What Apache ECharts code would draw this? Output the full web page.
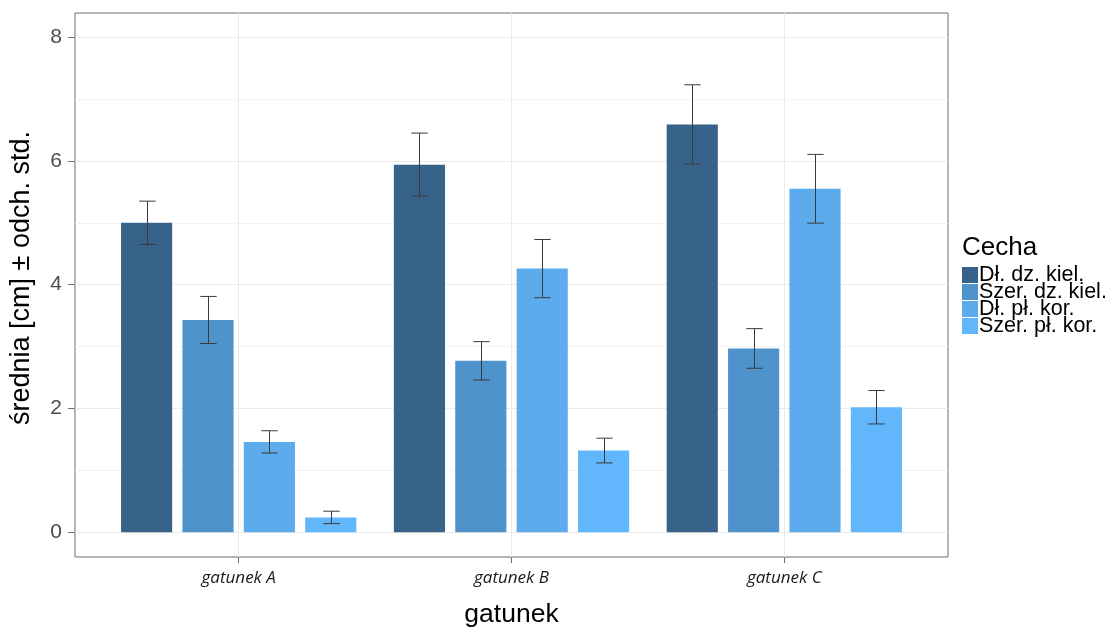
<!DOCTYPE html>
<html>
<head>
<meta charset="utf-8">
<script src="https://cdn.jsdelivr.net/npm/echarts@6/dist/echarts.min.js"></script>
<style>html,body{margin:0;padding:0;background:#fff}#c{width:1115px;height:628px}</style>
</head>
<body>
<div id="c"></div>
<script>
const categories = ['gatunek A', 'gatunek B', 'gatunek C'];
const traits = ['Dł. dz. kiel.', 'Szer. dz. kiel.', 'Dł. pł. kor.', 'Szer. pł. kor.'];
const yTicks = [0, 2, 4, 6, 8];
const meanDlDzKiel = [5.00, 5.94, 6.59];
const meanSzerDzKiel = [3.43, 2.77, 2.97];
const meanDlPlKor = [1.46, 4.26, 5.55];
const meanSzerPlKor = [0.24, 1.32, 2.02];
const sdDlDzKiel = [0.35, 0.51, 0.64];
const sdSzerDzKiel = [0.38, 0.31, 0.32];
const sdDlPlKor = [0.18, 0.47, 0.555];
const sdSzerPlKor = [0.10, 0.20, 0.27];

const colors = ['#37638a', '#4f93cd', '#5cabec', '#62b6fc'];
const means = [meanDlDzKiel, meanSzerDzKiel, meanDlPlKor, meanSzerPlKor];
const sds = [sdDlDzKiel, sdSzerDzKiel, sdDlPlKor, sdSzerPlKor];
const catPos = categories.map((c, i) => i + 1);

const chart = echarts.init(document.getElementById('c'), null, {renderer: 'canvas'});

const barSeries = traits.map((t, s) => ({
  name: t,
  type: 'bar',
  barWidth: '18.75%',
  barGap: '20%',
  itemStyle: {color: colors[s]},
  data: catPos.map((x, i) => [x, means[s][i]]),
  z: 2
}));

const errData = [];
traits.forEach((t, s) => catPos.forEach((x, i) => errData.push([x, means[s][i], sds[s][i], s])));

const errSeries = {
  type: 'custom',
  silent: true,
  z: 5,
  data: errData,
  encode: {x: 0, y: 1},
  renderItem: function (params, api) {
    const x = api.value(0), m = api.value(1), sd = api.value(2), s = api.value(3);
    const bw = api.size([1, 0])[0];
    const off = (s - 1.5) * bw * 0.225;
    const top = api.coord([x, m + sd]);
    const bot = api.coord([x, m - sd]);
    const cx = Math.round(top[0] + off) + 0.5;
    const hw = bw * 0.03;
    const st = {stroke: '#3a3a3a', lineWidth: 1, fill: null};
    return {
      type: 'group',
      children: [
        {type: 'line', shape: {x1: cx, y1: top[1], x2: cx, y2: bot[1]}, style: st},
        {type: 'line', shape: {x1: cx - hw, y1: top[1], x2: cx + hw, y2: top[1]}, style: st},
        {type: 'line', shape: {x1: cx - hw, y1: bot[1], x2: cx + hw, y2: bot[1]}, style: st}
      ]
    };
  }
};

chart.setOption({
  animation: false,
  backgroundColor: '#ffffff',
  textStyle: {fontFamily: 'Liberation Sans, Arial, sans-serif'},
  title: {
    text: 'Cecha', left: 962, top: 235, padding: 0,
    textStyle: {fontSize: 26, fontWeight: 'normal', color: '#000', fontFamily: 'Liberation Sans'}
  },
  legend: {
    orient: 'vertical', left: 962, top: 264, padding: 0,
    itemWidth: 16, itemHeight: 16, itemGap: -5,
    icon: 'rect',
    data: traits,
    textStyle: {fontSize: 21.5, color: '#000', fontFamily: 'Liberation Sans', padding: [0, 0, 0, -4]}
  },
  grid: {
    left: 75, right: 167, top: 13, bottom: 71,
    outerBoundsMode: 'none', containLabel: false,
    show: true, borderColor: '#6e6e6e', borderWidth: 1, backgroundColor: 'transparent'
  },
  xAxis: {
    type: 'value', min: 0.4, max: 3.6, splitNumber: 3,
    axisLine: {show: false, onZero: false},
    axisTick: {show: true, length: 6, lineStyle: {color: '#6e6e6e'}, customValues: catPos},
    axisLabel: {
      customValues: catPos, margin: 13, fontSize: 17, fontStyle: 'italic', color: '#1a1a1a',
      fontFamily: 'Open Sans',
      formatter: v => categories[Math.round(v) - 1] || ''
    },
    splitLine: {show: true, lineStyle: {color: '#ebebeb', width: 1}},
    name: 'gatunek', nameLocation: 'middle', nameGap: 44,
    nameTextStyle: {fontSize: 26.5, color: '#000', fontFamily: 'Liberation Sans'}
  },
  yAxis: {
    type: 'value', min: -0.4, max: 8.39, splitNumber: 5,
    axisLine: {show: false},
    axisTick: {show: true, length: 7, lineStyle: {color: '#6e6e6e'}, customValues: yTicks},
    axisLabel: {customValues: yTicks, margin: 13, fontSize: 21, color: '#4d4d4d', fontFamily: 'Liberation Sans'},
    splitLine: {show: true, lineStyle: {color: '#ebebeb', width: 1}},
    minorTick: {show: false, splitNumber: 2},
    minorSplitLine: {show: true, lineStyle: {color: '#f4f4f4', width: 1}},
    name: 'średnia [cm] ± odch. std.', nameLocation: 'middle', nameGap: 40,
    nameTextStyle: {fontSize: 27, color: '#000', fontFamily: 'Liberation Sans', padding: [0, 0, 0, 14]}
  },
  series: barSeries.concat([errSeries])
});
</script>
</body>
</html>
